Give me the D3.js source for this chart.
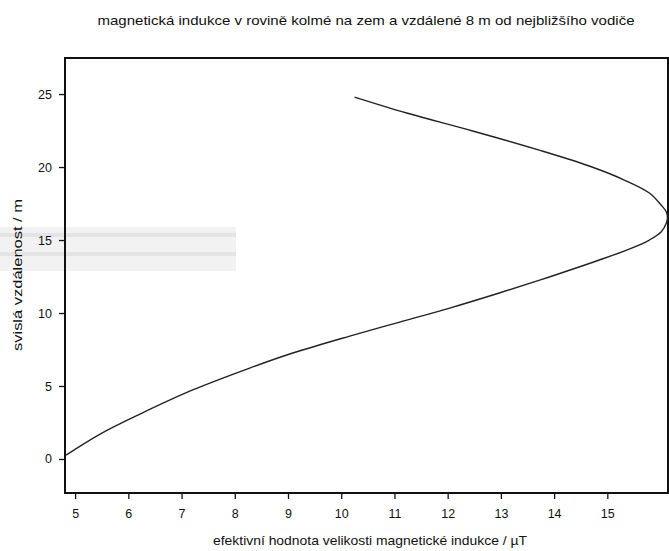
<!DOCTYPE html>
<html>
<head>
<meta charset="utf-8">
<script src="https://cdn.jsdelivr.net/npm/d3@7"></script>
<style>
  body { margin: 0; background: #fff; }
  text { font-family: "Liberation Sans", Arial, sans-serif; fill: #111; }
</style>
</head>
<body>
<div id="chart"></div>
<script>
// height above ground (m) and effective B (µT)
const heights = [0.27, 1.71, 3.08, 4.73, 6.23, 7.26, 8.42, 9.38, 10.34, 11.37, 12.47, 13.63, 14.38, 15.0, 15.55, 16.16, 16.5, 16.92, 17.4, 18.22, 19.11, 20.07, 21.16, 22.47, 23.7, 24.79];
const induction = [4.83, 5.47, 6.22, 7.21, 8.28, 9.09, 10.16, 11.1, 12.04, 12.97, 13.91, 14.85, 15.41, 15.79, 16.01, 16.11, 16.13, 16.11, 16.01, 15.79, 15.32, 14.66, 13.72, 12.47, 11.23, 10.25];
const xTicks = [5, 6, 7, 8, 9, 10, 11, 12, 13, 14, 15];
const yTicks = [0, 5, 10, 15, 20, 25];

const W = 669, H = 551;
const margin = {top: 58, right: 1, bottom: 58, left: 65},
  width = W - margin.left - margin.right,
  height = H - margin.top - margin.bottom;

const svg = d3.select("#chart")
  .append("svg")
    .attr("width", W)
    .attr("height", H);

// faint scanner smear on the left
svg.append("rect").attr("x", 0).attr("y", 227).attr("width", 236).attr("height", 44)
  .style("fill", "#f2f2f2");
svg.append("rect").attr("x", 0).attr("y", 233).attr("width", 236).attr("height", 4)
  .style("fill", "#e4e4e4");
svg.append("rect").attr("x", 0).attr("y", 252).attr("width", 236).attr("height", 4)
  .style("fill", "#e4e4e4");

const g = svg.append("g")
  .attr("transform", `translate(${margin.left},${margin.top})`);

const x = d3.scaleLinear().domain([4.81, 16.14]).range([0, width]);
const y = d3.scaleLinear().domain([-2.33, 27.47]).range([height, 0]);

// axes
const xAxis = g.append("g")
  .attr("transform", `translate(0,${height})`)
  .call(d3.axisBottom(x).tickValues(xTicks).tickSize(6).tickPadding(10).tickSizeOuter(0));
const yAxis = g.append("g")
  .call(d3.axisLeft(y).tickValues(yTicks).tickSize(6).tickPadding(7).tickSizeOuter(0));

[xAxis, yAxis].forEach(a => {
  a.select(".domain").remove();
  a.selectAll("text").style("font-size", "12.5px").style("fill", "#111");
  a.selectAll("line").style("stroke", "#111").style("stroke-width", 1.3);
});

// frame
g.append("rect")
  .attr("width", width)
  .attr("height", height)
  .style("fill", "none")
  .style("stroke", "#111")
  .style("stroke-width", 2);

// curve
const pts = heights.map((h, i) => [induction[i], h]);
g.append("path")
  .datum(pts)
  .attr("d", d3.line()
    .x(d => x(d[0]))
    .y(d => y(d[1]))
    .curve(d3.curveCatmullRom.alpha(0.5)))
  .style("fill", "none")
  .style("stroke", "#222")
  .style("stroke-width", 1.4);

// titles
svg.append("text")
  .attr("x", 366).attr("y", 25)
  .attr("text-anchor", "middle")
  .attr("textLength", 537)
  .attr("lengthAdjust", "spacingAndGlyphs")
  .style("font-size", "13px")
  .text("magnetická indukce v rovině kolmé na zem a vzdálené 8 m od nejbližšího vodiče");

svg.append("text")
  .attr("x", 370).attr("y", 545)
  .attr("text-anchor", "middle")
  .attr("textLength", 314)
  .attr("lengthAdjust", "spacingAndGlyphs")
  .style("font-size", "13px")
  .text("efektivní hodnota velikosti magnetické indukce / µT");

svg.append("text")
  .attr("transform", `translate(22,${275}) rotate(-90)`)
  .attr("text-anchor", "middle")
  .attr("textLength", 152)
  .attr("lengthAdjust", "spacingAndGlyphs")
  .style("font-size", "13px")
  .text("svislá vzdálenost / m");
</script>
</body>
</html>
